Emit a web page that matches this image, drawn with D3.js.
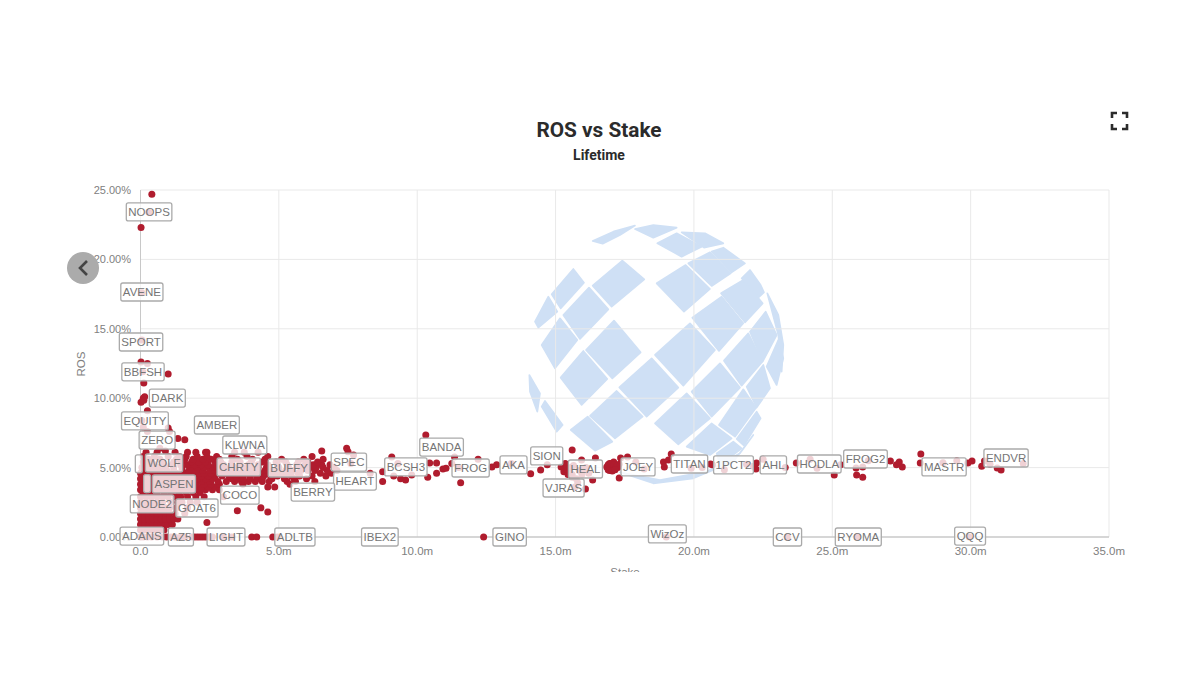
<!DOCTYPE html>
<html lang="en">
<head>
<meta charset="UTF-8">
<title>ROS vs Stake</title>
<script src="https://d3js.org/d3.v7.min.js"></script>
<style>
    body {margin: 0; background: #fff;}
    svg {display: block;}
</style>
</head>
<body>
<svg id="chart" width="1200" height="675"></svg>
<script>
// axis ticks
const xTicks = [0, 5, 10, 15, 20, 25, 30, 35];
const yTicks = [0, 5, 10, 15, 20, 25];

// dense part of the cloud: one ros level, the stakes seen at that level
const bandRos = [0.5, 0.9, 1.3, 1.7, 2.1, 2.5, 2.9, 3.2, 3.4, 3.6, 3.8, 4.0, 4.2, 4.4, 4.6, 4.8, 5.0, 5.2, 5.4, 5.6, 5.8, 6.1];
const bandStakes = [
    [0, 0.12, 0.25, 0.4, 0.55, 0.7, 0.85],
    [0, 0.15, 0.3, 0.45, 0.6, 0.75, 0.9, 1.0, 1.15],
    [0, 0.15, 0.3, 0.45, 0.6, 0.75, 0.9, 1.05, 1.2, 1.35],
    [0, 0.15, 0.3, 0.45, 0.6, 0.75, 0.9, 1.05, 1.25, 1.6],
    [0, 0.15, 0.3, 0.45, 0.6, 0.75, 0.9, 1.05, 1.3, 1.7],
    [0, 0.2, 0.4, 0.6, 0.8, 1.1, 1.35, 1.5, 1.8, 2.05],
    [0, 0.2, 0.4, 0.6, 0.8, 1.0, 1.25, 1.45, 1.7, 2.0, 2.3],
    [0.1, 0.35, 0.6, 0.85, 1.1, 1.4, 1.65, 1.9, 2.15],
    [0, 0.25, 0.5, 0.75, 1, 1.25, 1.5, 1.75, 2.0, 2.35, 2.6, 2.85],
    [0.1, 0.4, 0.65, 0.9, 1.15, 1.4, 1.65, 1.9, 2.2, 2.45, 2.7, 4.6, 4.85],
    [0, 0.25, 0.5, 0.75, 1, 1.3, 1.5, 1.75, 2.0, 2.3, 2.55, 2.85, 3.7, 5.4],
    [0.1, 0.4, 0.65, 0.9, 1.15, 1.45, 1.7, 1.95, 2.2, 2.5, 2.8, 3.1, 3.4, 3.65, 3.9, 4.15, 4.4, 4.65, 5.3, 5.6, 6.3],
    [0, 0.25, 0.5, 0.75, 1, 1.3, 1.55, 1.8, 2.05, 2.35, 2.6, 3.3, 3.5, 3.7, 3.95, 4.2, 4.4, 4.75, 5.2, 5.55, 6.0],
    [0.1, 0.4, 0.65, 0.9, 1.15, 1.45, 1.7, 1.95, 2.2, 2.45, 2.7, 2.95, 3.2, 3.45, 3.7, 3.95, 4.2, 4.45, 4.7, 4.95, 5.2, 5.45, 5.75, 6.2, 6.7],
    [0, 0.25, 0.5, 0.75, 1, 1.3, 1.6, 1.85, 2.1, 2.3, 2.55, 2.8, 3.1, 3.35, 3.6, 3.85, 4.1, 4.3, 4.55, 4.85, 5.1, 5.4, 5.7, 6.5, 6.9],
    [0.15, 0.45, 0.7, 0.95, 1.2, 1.5, 1.75, 2.0, 2.25, 2.5, 2.7, 2.95, 3.2, 3.45, 3.75, 4.0, 4.25, 4.5, 4.75, 5.0, 5.25, 5.5, 5.8, 6.05, 6.3, 6.75, 7.1],
    [0.05, 0.3, 0.6, 0.9, 1.2, 1.5, 1.8, 2.05, 2.3, 2.6, 2.8, 3.05, 3.4, 3.7, 4.0, 4.25, 4.55, 5.0, 5.35, 5.8, 6.1, 6.35, 6.6, 7.0],
    [0.2, 0.5, 0.85, 1.15, 1.45, 1.7, 1.95, 2.2, 2.45, 2.75, 3.0, 3.3, 3.6, 3.9, 4.25, 4.6, 4.95, 5.3, 5.65, 5.95, 6.25, 6.55, 6.85],
    [0.1, 0.4, 0.8, 1.2, 1.5, 1.85, 2.1, 2.35, 2.7, 2.9, 3.3, 3.6, 4.0, 4.4, 4.9, 5.25, 5.7, 6.05, 6.4],
    [0.3, 0.7, 1.3, 1.6, 1.9, 2.25, 2.55, 2.85, 3.5, 4.05, 4.5, 5.1, 5.9, 6.6],
    [0.1, 0.5, 1.0, 1.4, 1.65, 2.05, 2.4, 2.75, 3.3, 3.85, 4.6],
    [0.2, 0.6, 1.25, 1.7, 2.0, 2.35, 3.4, 3.75, 4.25]
];

// points that sit on their own, read one by one
const soloStake = [
    0.41, 0.02, 0.3, 0.05, 0.05, 0.02, 0.25, 1.0, 0.08, 0.12,
    0.1, 0.02, 0.15, 0.12, 0.25, 0.05, 0.1, 0.25, 1.0, 1.05,
    1.35, 1.6, 0.7, 0.9, 2.4, 4.35, 4.6, 2.4, 3.5, 3.0,
    6.55, 6.2, 7.45, 7.5, 7.7, 7.6, 8.3, 8.75, 8.75, 9.15,
    9.4, 9.58, 9.8, 9.08, 9.3, 10.31, 11.35, 10.45, 10.7, 11.57,
    10.38, 10.7, 10.93, 11.04, 11.25, 11.5, 12.7, 12.87, 12.2, 13.4,
    14.1, 14.46, 14.7, 15.6, 15.2, 15.3, 15.35, 15.45, 15.5, 15.6,
    15.65, 15.7, 15.8, 15.94, 16.08, 16.34, 16.44, 16.1, 16.85, 16.95,
    17.05, 17.15, 17.25, 16.9, 17.1, 17.3, 17.3, 17.35, 17.6, 17.9,
    18.2, 18.9, 18.93, 19.08, 19.18, 19.9, 20.6, 20.67, 20.3, 21.1,
    21.9, 22.26, 22.24, 22.15, 22.5, 23.3, 23.7, 24.2, 24.45, 25.07,
    25.3, 25.86, 25.88, 26.1, 26.1, 26.3, 27.1, 27.32, 27.42, 27.53,
    28.2, 28.18, 29.0, 29.5, 29.9, 30.05, 30.4, 30.5, 30.7, 30.96,
    31.1, 31.9, 16.9, 17.0, 17.1, 17.2, 16.95, 17.05, 17.15, 15.4,
    15.5, 15.55, 15.6, 15.75, 15.85, 15.95, 16.0, 16.2
];
const soloRos = [
    24.7, 22.3, 23.4, 17.6, 14.2, 12.6, 12.5, 11.75, 11.9, 11.1,
    10.0, 9.7, 10.1, 9.85, 9.1, 8.4, 7.9, 7.6, 7.85, 7.6,
    7.1, 7.0, 6.4, 6.2, 6.1, 2.1, 1.8, 1.05, 1.9, 2.9,
    6.2, 5.8, 6.4, 6.15, 5.9, 5.3, 4.6, 4.7, 4.0, 4.4,
    4.2, 4.1, 4.47, 5.76, 5.3, 7.35, 5.76, 5.33, 5.33, 3.9,
    4.3, 4.6, 4.9, 4.95, 5.3, 5.0, 5.05, 5.2, 5.6, 5.3,
    4.55, 4.83, 5.2, 6.27, 5.05, 4.7, 5.3, 4.5, 4.9, 4.3,
    5.15, 3.6, 3.9, 5.55, 3.46, 4.1, 5.7, 5.0, 5.05, 5.3,
    4.95, 5.2, 5.0, 4.85, 5.4, 5.25, 4.25, 5.7, 5.76, 5.4,
    4.9, 5.4, 5.05, 5.55, 5.98, 4.95, 5.26, 5.2, 5.0, 4.85,
    5.25, 5.33, 4.9, 5.1, 5.6, 5.0, 5.33, 5.6, 4.95, 4.47,
    5.2, 4.97, 4.47, 4.3, 5.05, 5.5, 5.48, 5.2, 5.4, 5.05,
    5.98, 5.33, 5.35, 5.5, 5.33, 5.48, 5.1, 5.48, 5.25, 4.97,
    4.83, 5.3, 5.2, 5.3, 5.2, 5.1, 4.8, 4.75, 4.85, 4.9,
    4.7, 5.0, 4.5, 4.2, 4.8, 4.5, 4.9, 4.6
];

// points lying on the zero line
const zeroStake = [
    0, 0.1, 0.25, 0.4, 0.6, 0.8, 0.95, 1.1, 1.25, 1.45, 1.6, 1.85, 1.95, 2.05, 2.15, 2.25, 2.35, 2.45,
    2.6, 3.0, 3.3, 4.02, 4.2, 4.78, 4.95, 12.4, 19.0, 23.37, 25.9, 29.95
];

// boxed names, placed on the chart's own axes
const labelNames = [
    "NOOPS", "AVENE", "SPORT", "BBFSH", "DARK", "EQUITY", "ZERO", "AMBER", "KLWNA", "WOLF", "", "",
    "CHRTY", "BUFFY", "SPEC", "HEART", "BERRY", "ASPEN", "COCO", "NODE2", "GOAT6", "ADANS", "AZ5", "LIGHT",
    "ADLTB", "IBEX2", "GINO", "WizOz", "CCV", "RYOMA", "QQQ", "BANDA", "BCSH3", "FROG", "AKA", "SION",
    "HEAL", "VJRAS", "JOEY", "TITAN", "1PCT2", "AHL", "HODLA", "FROG2", "MASTR", "ENDVR"
];
const labelStake = [
    0.31, 0.05, 0.02, 0.09, 0.97, 0.16, 0.6, 2.76, 3.77, 0.85, -0.06, 0.24,
    3.55, 5.37, 7.53, 7.75, 6.23, 1.21, 3.59, 0.42, 2.04, 0.05, 1.46, 3.09,
    5.58, 8.65, 13.34, 19.04, 23.38, 25.94, 29.98, 10.88, 9.59, 11.93, 13.48, 14.68,
    16.08, 15.29, 17.98, 19.84, 21.43, 22.87, 24.53, 26.2, 29.04, 31.28
];
const labelRos = [
    23.42, 17.65, 14.05, 11.9, 10.01, 8.36, 6.98, 8.07, 6.63, 5.33, 5.27, 3.85,
    5.05, 4.97, 5.4, 4.03, 3.24, 3.82, 3.01, 2.38, 2.09, 0.07, 0, 0,
    0, 0, 0, 0.22, 0, 0, 0.07, 6.48, 5.05, 4.97, 5.19, 5.84,
    4.9, 3.53, 5.05, 5.26, 5.19, 5.19, 5.26, 5.62, 5.05, 5.69
];

// watermark globe, traced cell by cell in the logo's own 280 x 280 frame (x3)
const globeCells = [
    [[218,78],[280,50],[345,32],[300,60],[248,86]], [[345,42],[400,30],[470,38],[400,68]],
    [[412,85],[470,55],[545,95],[485,125]], [[485,52],[555,55],[610,85],[552,98]],
    [[505,145],[570,112],[632,175],[575,213]], [[575,110],[610,98],[675,145],[635,172]],
    [[410,205],[497,150],[570,222],[492,290]], [[218,212],[307,137],[373,193],[275,275]],
    [[95,238],[160,162],[192,203],[122,280]], [[45,320],[85,245],[112,290],[55,338]],
    [[130,300],[207,218],[265,283],[180,372]], [[65,390],[120,310],[172,375],[105,460]],
    [[198,405],[282,317],[362,412],[277,490]], [[122,488],[190,408],[262,492],[185,570]],
    [[405,420],[510,325],[585,405],[490,512]], [[298,517],[395,430],[475,518],[380,605]],
    [[517,308],[605,245],[670,325],[597,408]], [[603,235],[670,195],[728,265],[675,322]],
    [[665,190],[690,165],[722,210],[732,232],[715,248]], [[690,350],[737,290],[770,360],[728,440]],
    [[612,437],[685,355],[727,440],[665,512]], [[515,530],[600,445],[660,518],[575,605]],
    [[405,625],[500,535],[570,610],[475,688]], [[210,603],[290,528],[368,605],[285,670]],
    [[152,645],[203,605],[277,680],[225,707]], [[28,480],[60,535],[52,590],[30,530]],
    [[65,575],[75,558],[128,630],[110,650]], [[597,630],[670,523],[708,578],[645,665]],
    [[680,515],[730,450],[750,520],[710,578]], [[740,455],[775,375],[790,430],[770,510]],
    [[742,235],[775,300],[790,390],[785,470],[775,360]], [[650,672],[710,590],[722,610],[672,692]],
    [[500,695],[575,625],[635,670],[570,720]], [[590,715],[640,680],[665,700],[600,750]],
    [[300,772],[420,795],[560,770],[660,715],[700,660],[640,740],[520,790],[400,805]]
];

const svg = d3.select("#chart");
const width = 1200;

// plot scales
const x = d3.scaleLinear().domain([0, 35]).range([140.5, 1109]);
const y = d3.scaleLinear().domain([0, 25]).range([537, 190]);

// watermark
svg.append("g")
    .attr("transform", "translate(520,215) scale(0.3333)")
    .selectAll("path")
    .data(globeCells)
    .join("path")
    .attr("d", d3.line().curve(d3.curveLinearClosed))
    .attr("fill", "#cfe0f5")
    .attr("stroke", "#cfe0f5")
    .attr("stroke-width", 5)
    .attr("stroke-linejoin", "round");

// grid
svg.append("g").selectAll("line")
    .data(yTicks.slice(1))
    .join("line")
    .attr("x1", x(0)).attr("x2", x(35))
    .attr("y1", d => y(d)).attr("y2", d => y(d))
    .attr("stroke", "#e9e9e9");
svg.append("g").selectAll("line")
    .data(xTicks.slice(1))
    .join("line")
    .attr("x1", d => x(d)).attr("x2", d => x(d))
    .attr("y1", y(25)).attr("y2", y(0))
    .attr("stroke", "#e9e9e9");

// axis lines
svg.append("line").attr("x1", x(0)).attr("x2", x(0)).attr("y1", y(25)).attr("y2", y(0))
    .attr("stroke", "#c8c8c8");
svg.append("line").attr("x1", x(0)).attr("x2", x(35)).attr("y1", y(0)).attr("y2", y(0))
    .attr("stroke", "#c8c8c8").attr("stroke-width", 1.5);

// tick labels
svg.append("g").selectAll("text")
    .data(yTicks)
    .join("text")
    .attr("x", 131).attr("y", d => y(d) + 4)
    .attr("text-anchor", "end")
    .attr("font-family", "Liberation Sans").attr("font-size", 11).attr("fill", "#808080")
    .text(d => d3.format(".2f")(d) + "%");
svg.append("g").selectAll("text")
    .data(xTicks)
    .join("text")
    .attr("x", d => x(d)).attr("y", 555)
    .attr("text-anchor", "middle")
    .attr("font-family", "Liberation Sans").attr("font-size", 11.5).attr("fill", "#808080")
    .text(d => d === 0 ? "0.0" : d3.format(".1f")(d) + "m");

// axis titles, the bottom one is cut off by its container
svg.append("clipPath").attr("id", "cut").append("rect")
    .attr("x", 0).attr("y", 0).attr("width", width).attr("height", 572);
svg.append("text")
    .attr("x", 625).attr("y", 576)
    .attr("clip-path", "url(#cut)")
    .attr("text-anchor", "middle")
    .attr("font-family", "Liberation Sans").attr("font-size", 11.5).attr("fill", "#808080")
    .text("Stake");
svg.append("text")
    .attr("transform", "translate(85,364) rotate(-90)")
    .attr("text-anchor", "middle")
    .attr("font-family", "Liberation Sans").attr("font-size", 11.5).attr("fill", "#808080")
    .text("ROS");

// titles
svg.append("text")
    .attr("x", 599).attr("y", 137)
    .attr("text-anchor", "middle")
    .attr("font-family", "Roboto").attr("font-weight", 700).attr("font-size", 20.8).attr("fill", "#2b2b2b")
    .text("ROS vs Stake");
svg.append("text")
    .attr("x", 599).attr("y", 160)
    .attr("text-anchor", "middle")
    .attr("font-family", "Roboto").attr("font-weight", 700).attr("font-size", 14).attr("fill", "#2b2b2b")
    .text("Lifetime");

// points
const points = [];
bandRos.forEach((r, i) => bandStakes[i].forEach(s => points.push([s, r])));
soloStake.forEach((s, i) => points.push([s, soloRos[i]]));
zeroStake.forEach(s => points.push([s, 0]));

svg.append("g").selectAll("circle")
    .data(points)
    .join("circle")
    .attr("cx", d => x(d[0]))
    .attr("cy", d => y(d[1]))
    .attr("r", 3.5)
    .attr("fill", "#b01c2e");

// boxed labels
const labels = svg.append("g").selectAll("g")
    .data(labelNames)
    .join("g")
    .attr("transform", (d, i) => `translate(${x(labelStake[i])},${y(labelRos[i])})`);
const labelText = labels.append("text")
    .attr("y", 4)
    .attr("text-anchor", "middle")
    .attr("font-family", "Liberation Sans").attr("font-size", 11.5).attr("fill", "#757575")
    .text(d => d);
labels.insert("rect", "text")
    .each(function (d, i) {
        let w = Math.max(labelText.nodes()[i].getComputedTextLength() + 4, 7);
        d3.select(this)
            .attr("x", -w / 2).attr("y", -9)
            .attr("width", w).attr("height", 18)
            .attr("rx", 2);
    })
    .attr("fill", "#fff").attr("fill-opacity", 0.8)
    .attr("stroke", "#aaa").attr("stroke-width", 1.3);

// page controls around the chart
svg.append("circle").attr("cx", 83).attr("cy", 268).attr("r", 16).attr("fill", "#ababab");
svg.append("path").attr("d", "M87,261 L80,268 L87,275")
    .attr("fill", "none").attr("stroke", "#444").attr("stroke-width", 2.6);
svg.append("path")
    .attr("d", "M1112,118 V113 H1117 M1122,113 H1127 V118 M1127,124 V129 H1122 M1117,129 H1112 V124")
    .attr("fill", "none").attr("stroke", "#2b2b2b").attr("stroke-width", 2.6);
</script>
</body>
</html>
